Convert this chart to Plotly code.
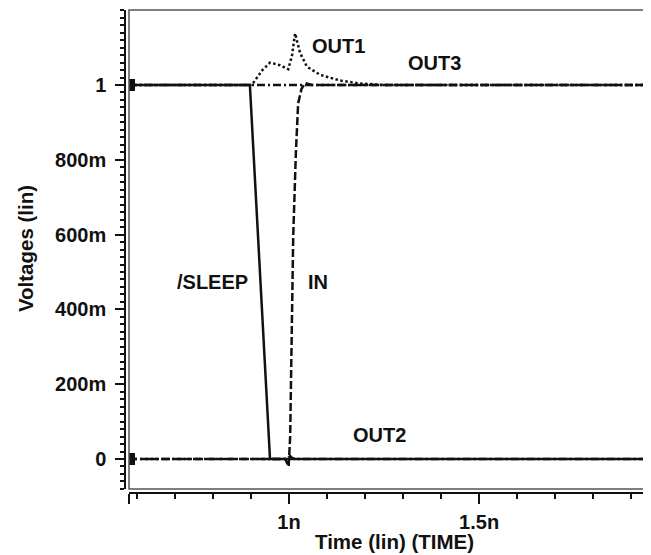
import plotly.graph_objects as go

# ---- data (time in ns, voltage in V) ----
t_sleep = [0.579, 0.897, 0.950, 1.947]
v_sleep = [1.0, 1.0, 0.0, 0.0]

t_in = [0.579, 0.990, 0.999, 1.003, 1.007, 1.011, 1.018, 1.024, 1.033, 1.042, 1.060, 1.947]
v_in = [0.0, 0.0, -0.020, 0.060, 0.327, 0.594, 0.818, 0.951, 0.990, 1.005, 1.000, 1.000]

t_out1 = [0.579, 0.902, 0.930, 0.950, 0.976, 0.998, 1.008, 1.016, 1.029, 1.047, 1.082, 1.134, 1.187, 1.250, 1.947]
v_out1 = [1.0, 1.0, 1.040, 1.060, 1.053, 1.042, 1.080, 1.138, 1.086, 1.049, 1.027, 1.012, 1.004, 1.000, 1.000]

t_out2 = [0.579, 0.995, 1.003, 1.008, 1.015, 1.947]
v_out2 = [0.0, 0.0, 0.008, 0.003, 0.0, 0.0]

t_out3 = [0.579, 1.947]
v_out3 = [1.0, 1.0]

y_tickvals = [0, 0.2, 0.4, 0.6, 0.8, 1.0]
y_ticktext = ["0", "200m", "400m", "600m", "800m", "1"]
x_tickvals = [0.579, 1.0, 1.5, 1.947]
x_ticktext = ["", "1n", "1.5n", ""]

labels = ["OUT1", "OUT3", "OUT2", "/SLEEP", "IN"]
label_t = [1.130, 1.383, 1.239, 0.897, 1.076]
label_v = [1.104, 1.059, 0.064, 0.473, 0.473]
label_anchor = ["center", "center", "center", "right", "center"]

X_RANGE = [0.579, 1.947]
Y_RANGE = [-0.0802, 1.2005]

FONT = "Liberation Sans, Arial, sans-serif"
BLACK = "#111111"

fig = go.Figure()

fig.add_trace(go.Scatter(x=t_out3, y=v_out3, mode="lines",
                         line=dict(color=BLACK, width=2.5, dash="8px,3px,2px,3px"), name="OUT3"))
fig.add_trace(go.Scatter(x=t_out2, y=v_out2, mode="lines",
                         line=dict(color=BLACK, width=2.5, dash="8px,3px,2px,3px"), name="OUT2"))
fig.add_trace(go.Scatter(x=t_out1, y=v_out1, mode="lines",
                         line=dict(color=BLACK, width=2.5, dash="2.5px,2.5px"), name="OUT1"))
fig.add_trace(go.Scatter(x=t_in, y=v_in, mode="lines",
                         line=dict(color=BLACK, width=2.5, dash="8px,3px"), name="IN"))
fig.add_trace(go.Scatter(x=t_sleep, y=v_sleep, mode="lines",
                         line=dict(color=BLACK, width=2.5), name="/SLEEP"))
# start-point markers
fig.add_trace(go.Scatter(x=[t_sleep[0], t_in[0]], y=[v_sleep[0], v_in[0]], mode="markers",
                         marker=dict(symbol="square", size=12, color=BLACK), name="start"))

for txt, tx, vy, anc in zip(labels, label_t, label_v, label_anchor):
    fig.add_annotation(x=tx, y=vy, xref="x", yref="y", text="<b>%s</b>" % txt,
                       showarrow=False, xanchor=anc, yanchor="middle",
                       font=dict(family=FONT, size=20, color=BLACK))

# plot box
fig.add_shape(type="rect", xref="x domain", yref="y domain", x0=0, x1=1, y0=0, y1=1,
              line=dict(color="#555555", width=1.5), layer="above")

# axis titles
fig.add_annotation(x=0.5134, y=-0.1014, xref="paper", yref="paper",
                   text="<b>Time (lin) (TIME)</b>", showarrow=False,
                   xanchor="center", yanchor="middle",
                   font=dict(family=FONT, size=20.5, color=BLACK))
fig.add_annotation(x=-0.1908, y=0.505, xref="paper", yref="paper",
                   text="<b>Voltages (lin)</b>", showarrow=False, textangle=-90,
                   xanchor="center", yanchor="middle",
                   font=dict(family=FONT, size=20.5, color=BLACK))

fig.update_layout(
    width=643, height=547,
    margin=dict(l=117, r=2, t=2, b=62),
    paper_bgcolor="white", plot_bgcolor="white",
    showlegend=False,
    font=dict(family=FONT, size=18, color=BLACK),
    xaxis=dict(
        domain=[0.00763, 1], anchor="free", position=0,
        range=X_RANGE, showgrid=False, zeroline=False,
        showline=True, linecolor=BLACK, linewidth=1.5,
        tickmode="array", tickvals=x_tickvals, ticktext=x_ticktext,
        ticks="outside", ticklen=10, tickwidth=1.5, tickcolor=BLACK,
        ticklabelstandoff=1,
        tickfont=dict(family=FONT, size=20, color=BLACK, weight="bold"),
        minor=dict(tickmode="linear", tick0=0, dtick=0.1, ticks="outside",
                   ticklen=5, tickwidth=1.5, tickcolor=BLACK, showgrid=False),
    ),
    yaxis=dict(
        domain=[0.00828, 1], anchor="free", position=0,
        range=Y_RANGE, showgrid=False, zeroline=False,
        showline=True, linecolor=BLACK, linewidth=1.5,
        tickmode="array", tickvals=y_tickvals, ticktext=y_ticktext,
        ticks="outside", ticklen=9, tickwidth=1.5, tickcolor=BLACK,
        ticklabelstandoff=5,
        tickfont=dict(family=FONT, size=20, color=BLACK, weight="bold"),
        minor=dict(tickmode="linear", tick0=0, dtick=0.02, ticks="outside",
                   ticklen=4.5, tickwidth=1.5, tickcolor=BLACK, showgrid=False),
    ),
)

fig.write_html("out.html")
